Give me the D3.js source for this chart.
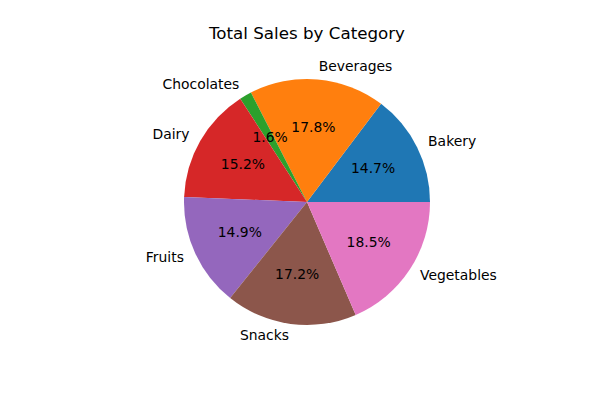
<!DOCTYPE html>
<html>
<head>
<meta charset="utf-8">
<script src="https://cdn.jsdelivr.net/npm/d3@7/dist/d3.min.js"></script>
<style>
body{margin:0;background:#fff;}
svg{display:block;font-family:"DejaVu Sans",sans-serif;}
</style>
</head>
<body>
<svg id="chart" width="600" height="400"></svg>
<script>
const categories = ["Bakery","Beverages","Chocolates","Dairy","Fruits","Snacks","Vegetables"];
const sales = [14.7,17.8,1.6,15.2,14.9,17.2,18.5];
const colors = ["#1f77b4","#ff7f0e","#2ca02c","#d62728","#9467bd","#8c564b","#e377c2"];

const svg = d3.select("#chart");
const cx = 307, cy = 202, r = 123;

svg.append("text").attr("x",cx).attr("y",34).attr("text-anchor","middle")
  .attr("dominant-baseline","middle").attr("font-size","16.7px").attr("fill","#000")
  .text("Total Sales by Category");

const data = categories.map((c,i)=>({cat:c,val:sales[i],color:colors[i]}));
const pie = d3.pie().value(d=>d.val).sort(null)
  .startAngle(Math.PI/2).endAngle(Math.PI/2 - 2*Math.PI);
const arcs = pie(data);
const arc = d3.arc().innerRadius(0).outerRadius(r);
const g = svg.append("g").attr("transform",`translate(${cx},${cy})`);
g.selectAll("path").data(arcs).join("path")
  .attr("d",arc).attr("fill",d=>d.data.color);

const total = d3.sum(sales);
arcs.forEach(a=>{
  const mid = (a.startAngle + a.endAngle)/2; // d3 angle, clockwise from top
  const sx = Math.sin(mid), sy = -Math.cos(mid);
  // labels
  g.append("text").attr("x",1.1*r*sx).attr("y",1.1*r*sy)
    .attr("text-anchor", sx>0?"start":"end").attr("dominant-baseline","middle")
    .attr("font-size","13.9px").attr("fill","#000").text(a.data.cat);
  g.append("text").attr("x",0.6*r*sx).attr("y",0.6*r*sy)
    .attr("text-anchor","middle").attr("dominant-baseline","middle")
    .attr("font-size","13.9px").attr("fill","#000")
    .text((a.data.val/total*100).toFixed(1)+"%");
});
</script>
</body>
</html>
